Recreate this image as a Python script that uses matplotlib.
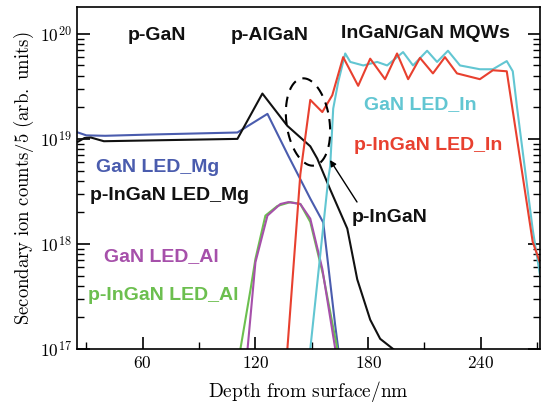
import numpy as np
import matplotlib
matplotlib.use("Agg")
import matplotlib.pyplot as plt
from matplotlib.ticker import FixedLocator, FixedFormatter, LogLocator, NullFormatter

plt.rcParams['mathtext.fontset'] = 'cm'

# --- data (depth in nm, counts) ---
mg_gan_x = [25.5, 30.0, 40.0, 64.2, 110.4, 126.4, 137.5, 149.2, 156.1, 162.5, 164.1]
mg_gan_y = [1.15e19, 1.08e19, 1.07e19, 1.1e19, 1.15e19, 1.73e19, 6.9e18, 2.7e18, 1.6e18, 1.66e17, 1.0e17]

mg_ingan_x = [25.5, 29.0, 32.4, 39.3, 110.4, 123.7, 137.0, 149.2, 152.9, 159.8, 168.9, 174.2, 181.1,
              186.4, 193.3]
mg_ingan_y = [9.4e18, 1.02e19, 1.03e19, 9.5e18, 1.0e19, 2.7e19, 1.33e19, 8.5e18, 6.5e18, 3.3e18, 1.4e18,
              4.6e17, 1.9e17, 1.25e17, 1.0e17]

al_gan_x = [115.8, 120.0, 126.4, 133.3, 137.5, 143.9, 149.2, 155.6, 162.5]
al_gan_y = [1.0e17, 6.7e17, 1.86e18, 2.4e18, 2.5e18, 2.4e18, 1.74e18, 5.8e17, 1.0e17]

al_ingan_x = [112.0, 117.4, 120.0, 125.3, 131.7, 138.6, 143.9, 149.2, 156.1, 163.6]
al_ingan_y = [1.0e17, 3.7e17, 7.2e17, 1.86e18, 2.3e18, 2.5e18, 2.4e18, 1.62e18, 5.0e17, 1.0e17]

in_ingan_x = [137.0, 143.9, 149.2, 155.6, 160.9, 166.7, 174.7, 181.1, 189.0, 195.4, 201.3, 207.6,
              214.5, 220.9, 227.3, 239.5, 246.4, 253.8, 267.6, 271.4]
in_ingan_y = [1.0e17, 4.6e18, 2.35e19, 1.8e19, 2.6e19, 6.0e19, 3.2e19, 5.8e19, 3.7e19, 6.5e19, 3.7e19,
              5.9e19, 4.2e19, 6.0e19, 4.2e19, 3.7e19, 4.5e19, 4.4e19, 1.05e18, 6.7e17]

in_gan_x = [149.2, 158.8, 159.8, 161.4, 164.1, 167.8, 170.5, 177.4, 184.8, 190.1, 198.6, 203.9, 211.4,
            216.7, 222.5, 228.9, 239.5, 246.4, 253.8, 257.0, 259.2, 267.6, 272.4]
in_gan_y = [1.0e17, 4.2e18, 5.5e18, 1.94e19, 3.5e19, 6.5e19, 5.4e19, 5.0e19, 5.4e19, 5.0e19, 6.7e19,
            5.0e19, 6.9e19, 5.4e19, 6.9e19, 5.0e19, 4.6e19, 4.6e19, 5.5e19, 4.4e19, 2.04e19,
            1.38e18, 4.0e17]

x_ticks = [60, 120, 180, 240]
y_ticks = [1e17, 1e18, 1e19, 1e20]
y_tick_labels = [r'$10^{17}$', r'$10^{18}$', r'$10^{19}$', r'$10^{20}$']

c_blue = '#4a5cae'
c_black = '#111111'
c_purple = '#a650aa'
c_green = '#6cbf4f'
c_red = '#e8402f'
c_cyan = '#62c6d2'

fig = plt.figure(figsize=(5.42, 4.08), dpi=100)
ax = fig.add_axes([77 / 542, 59 / 408, 463 / 542, 342 / 408])

lw = 1.5
ax.plot(mg_gan_x, mg_gan_y, color=c_blue, lw=lw)
ax.plot(mg_ingan_x, mg_ingan_y, color=c_black, lw=lw)
ax.plot(al_ingan_x, al_ingan_y, color=c_green, lw=lw)
ax.plot(al_gan_x, al_gan_y, color=c_purple, lw=lw)
ax.plot(in_gan_x, in_gan_y, color=c_cyan, lw=lw)
ax.plot(in_ingan_x, in_ingan_y, color=c_red, lw=lw)

ax.set_yscale('log')
ax.set_xlim(25, 271.5)
ax.set_ylim(1e17, 1.8e20)

ax.xaxis.set_major_locator(FixedLocator(x_ticks))
ax.xaxis.set_minor_locator(FixedLocator([30, 90, 150, 210, 270]))
ax.yaxis.set_major_locator(FixedLocator(y_ticks))
ax.yaxis.set_major_formatter(FixedFormatter(y_tick_labels))
ax.yaxis.set_minor_locator(LogLocator(base=10, subs=np.arange(2, 10)))
ax.yaxis.set_minor_formatter(NullFormatter())

ax.tick_params(axis='both', which='major', direction='in', length=9, width=1.2, labelsize=12.5)
ax.tick_params(axis='both', which='minor', direction='in', length=5, width=1.0)
ax.tick_params(axis='y', which='both', left=True, right=True)
ax.tick_params(axis='x', which='both', top=False)
ax.set_xticklabels([r'$%d$' % v for v in x_ticks])
for sp in ax.spines.values():
    sp.set_linewidth(1.2)

ax.set_xlabel(r'$\mathrm{Depth\ from\ surface/nm}$', fontsize=14, labelpad=5)
ax.set_ylabel(r'$\mathrm{Secondary\ ion\ counts/5\ (arb.\ units)}$', fontsize=13.5, labelpad=3)


def px(x, y):
    return ((x - 77) / 463, (349 - y) / 342)


lab_kw = dict(transform=ax.transAxes, ha='center', va='center', fontsize=14,
              fontweight='bold', family='Liberation Sans')
ax.text(*px(157, 35), 'p-GaN', color=c_black, **lab_kw)
ax.text(*px(270, 35), 'p-AlGaN', color=c_black, **lab_kw)
ax.text(*px(425, 33), 'InGaN/GaN MQWs', color=c_black, **lab_kw)
ax.text(*px(420, 105), 'GaN LED_In', color=c_cyan, **lab_kw)
ax.text(*px(428, 145), 'p-InGaN LED_In', color=c_red, **lab_kw)
ax.text(*px(158, 167), 'GaN LED_Mg', color=c_blue, **lab_kw)
ax.text(*px(169, 196), 'p-InGaN LED_Mg', color=c_black, **lab_kw)
ax.text(*px(161, 257), 'GaN LED_Al', color=c_purple, **lab_kw)
ax.text(*px(163, 295), 'p-InGaN LED_Al', color=c_green, **lab_kw)
ax.text(*px(390, 217), 'p-InGaN', color=c_black, **lab_kw)

# arrow to the dashed region
ax.annotate('', xy=px(330, 160), xytext=px(357, 202), xycoords='axes fraction',
            textcoords='axes fraction',
            arrowprops=dict(arrowstyle='-|>', color='black', lw=1.0, mutation_scale=9,
                            shrinkA=0, shrinkB=0))

# dashed ellipse, built in pixel units then mapped to axes fraction
t = np.linspace(0, 2 * np.pi, 200)
a, b, th = 21.5, 44, np.deg2rad(-8)
ex = 308 + a * np.cos(t) * np.cos(th) - b * np.sin(t) * np.sin(th)
ey = 122 + a * np.cos(t) * np.sin(th) + b * np.sin(t) * np.cos(th)
fx, fy = px(ex, ey)
ax.plot(fx, fy, transform=ax.transAxes, color='black', lw=1.5, ls=(0, (5, 3.5)))

fig.savefig('out.png', dpi=100)
